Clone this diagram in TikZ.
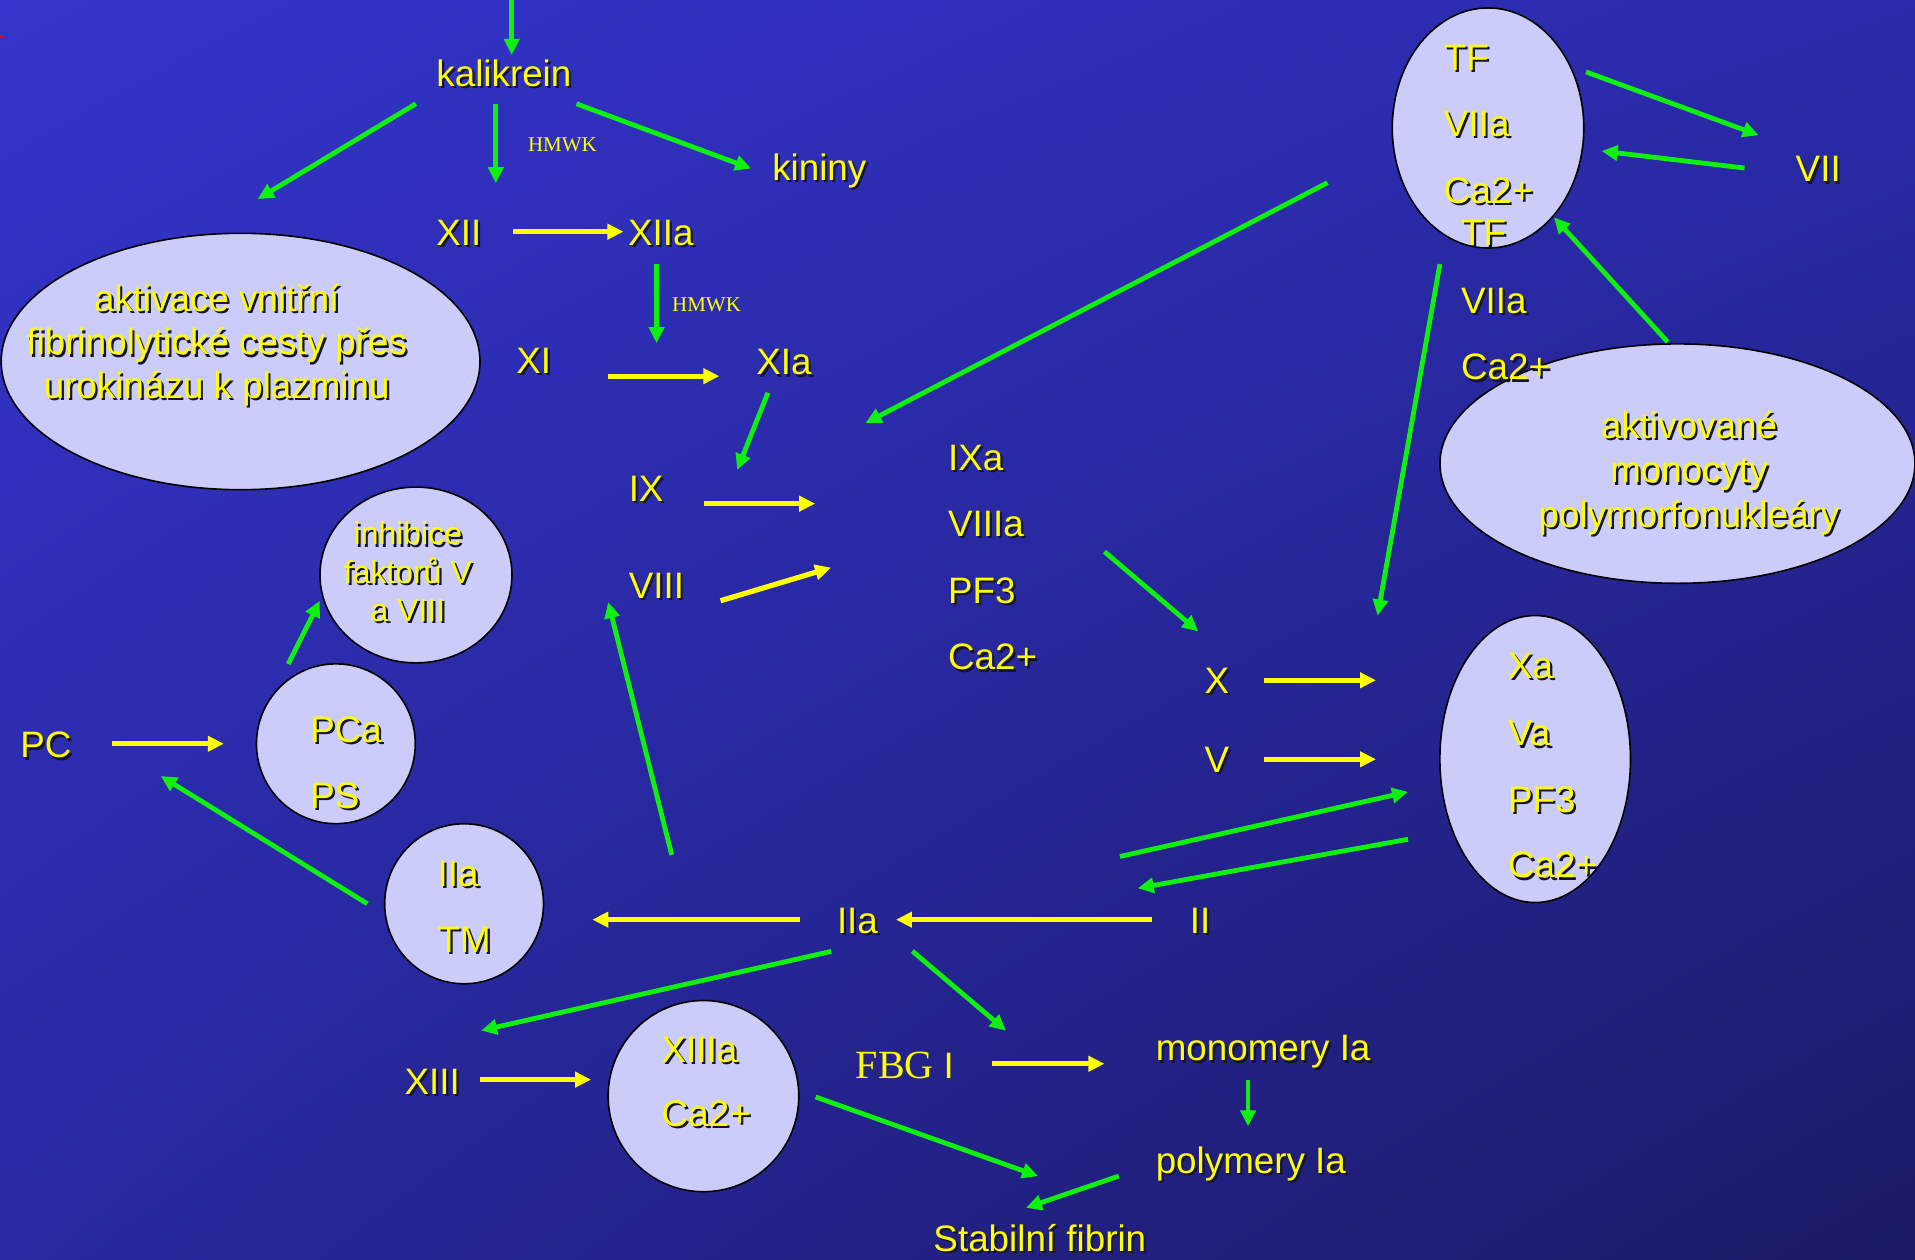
\documentclass[tikz,border=0pt]{standalone}
\usepackage{fontspec}
\setmainfont{Liberation Sans}
\newfontfamily\serifface{Liberation Serif}
\usetikzlibrary{arrows.meta,shapes.geometric,shadings}

\definecolor{bgTL}{RGB}{52,52,204}
\definecolor{bgTR}{RGB}{42,42,170}
\definecolor{bgBL}{RGB}{40,40,160}
\definecolor{bgBR}{RGB}{27,25,100}
\definecolor{grn}{RGB}{16,240,16}
\definecolor{yel}{RGB}{255,255,0}
\definecolor{bub}{RGB}{204,204,250}
\definecolor{txtshadow}{RGB}{20,20,40}

% yellow text with a dark drop shadow
\newcommand\shd[1]{\leavevmode\rlap{\kern1.1pt\raisebox{-1.1pt}{\textcolor{txtshadow}{#1}}}#1}

\begin{document}
\begin{tikzpicture}[x=0.61065pt,y=-0.61065pt,
  lab/.style={text=yel, inner sep=0pt, anchor=base west, font=\fontsize{18.4}{22}\selectfont},
  blk/.style={text=yel, inner sep=0pt, anchor=base, align=center},
  hmwk/.style={text=yel, inner sep=0pt, anchor=base west, font=\serifface\fontsize{10.5}{12}\selectfont},
  bubble/.style={ellipse, draw=black, line width=0.8pt, fill=bub, inner sep=0pt},
  garr/.style={draw=grn, line width=2.4pt, -{Triangle[length=8pt,width=7.5pt]}},
  yarr/.style={draw=yel, line width=2.6pt, -{Triangle[length=8pt,width=7.5pt]}},
]
\useasboundingbox (0,0) rectangle (1568,1031);
\shade[upper left=bgTL, upper right=bgTR, lower left=bgBL, lower right=bgBR] (0,0) rectangle (1568,1031);
\draw[red, line width=0.6pt] (0,29.5) -- (2.5,29.5);

% complexes
\node[bubble, minimum width=95.75pt, minimum height=120.05pt] (tfE) at (1218.4,104.8) {};
\node[bubble, minimum width=239.4pt, minimum height=128.2pt] (leftE) at (197,296) {};
\node[bubble, minimum width=237.5pt, minimum height=119.7pt] (aktE) at (1373.5,379.6) {};
\node[bubble, minimum width=96pt, minimum height=87.9pt] (inhE) at (340.6,470.8) {};
\node[bubble, minimum width=79.4pt, minimum height=79.9pt] (pcaE) at (275,609) {};
\node[bubble, minimum width=79.4pt, minimum height=80pt] (tmE) at (380,740) {};
\node[bubble, minimum width=95.3pt, minimum height=143.5pt] (xaE) at (1257,621.5) {};
\node[bubble, minimum width=95.3pt, minimum height=95.6pt] (xiiiaE) at (576,897.5) {};

% labels
\node[lab] (kal) at (357,70.5) {\shd{kalikrein}};
\node[lab] (kin) at (632,148) {\shd{kininy}};
\node[hmwk] (hm1) at (432,124) {HMWK};
\node[lab] (xii) at (357,201) {\shd{XII}};
\node[lab] (xiia) at (514,201) {\shd{XIIa}};
\node[hmwk] (hm2) at (550,255) {HMWK};
\node[lab] (xi) at (422.5,306) {\shd{XI}};
\node[lab] (xia) at (619,307) {\shd{XIa}};
\node[lab] (ix) at (514.5,410.5) {\shd{IX}};
\node[lab] (viii) at (514.5,490) {\shd{VIII}};
\node[lab] (ixa) at (776,385) {\shd{IXa}};
\node[lab] (viiia) at (776,439.5) {\shd{VIIIa}};
\node[lab] (pfa) at (776,494) {\shd{PF3}};
\node[lab] (caa) at (776,548.5) {\shd{Ca2+}};
\node[lab] (tf1) at (1182,57.5) {\shd{TF}};
\node[lab] (sa1) at (1182,112) {\shd{VIIa}};
\node[lab] (ca1) at (1182,166.7) {\shd{Ca2+}};
\node[lab] (tf2) at (1196,200.7) {\shd{TF}};
\node[lab] (sa2) at (1196,256.5) {\shd{VIIa}};
\node[lab] (ca2) at (1196,311) {\shd{Ca2+}};
\node[lab] (vii) at (1470,149) {\shd{VII}};
\node[lab] (x) at (986,568) {\shd{X}};
\node[lab] (v) at (986,632.4) {\shd{V}};
\node[lab] (xa) at (1234.5,555.8) {\shd{Xa}};
\node[lab] (va) at (1234.5,610.7) {\shd{Va}};
\node[lab] (pfb) at (1234.5,665) {\shd{PF3}};
\node[lab] (cab) at (1234.5,718.8) {\shd{Ca2+}};
\node[lab] (pc) at (16.4,620.5) {\shd{PC}};
\node[lab] (pca) at (253.8,608) {\shd{PCa}};
\node[lab] (ps) at (253.8,662) {\shd{PS}};
\node[lab] (iiat) at (358,726) {\shd{IIa}};
\node[lab] (tm) at (358,780) {\shd{TM}};
\node[lab] (iia) at (685,764.4) {\shd{IIa}};
\node[lab] (ii) at (974,764) {\shd{II}};
\node[lab] (xiii) at (331,895.8) {\shd{XIII}};
\node[lab] (xiiia) at (541.5,870) {\shd{XIIIa}};
\node[lab] (cac) at (541.5,922) {\shd{Ca2+}};
\node[lab] (fbg) at (700.5,882.7) {{\serifface\fontsize{20}{24}\selectfont FBG }I};
\node[lab] (mono) at (946,868.6) {\shd{monomery Ia}};
\node[lab] (poly) at (946,961) {\shd{polymery Ia}};
\node[lab] (stab) at (764,1024.8) {\shd{Stabilní fibrin}};

% multi-line texts, placed by the baseline of their last line
\node[blk, font=\fontsize{18.4}{21.7}\selectfont] (leftT) at (177.5,326.2)
  {\shd{aktivace vnitřní}\\\shd{fibrinolytické cesty přes}\\\shd{urokinázu k plazminu}};
\node[blk, font=\fontsize{16}{19.2}\selectfont] (inhT) at (334,509)
  {\shd{inhibice}\\\shd{faktorů V}\\\shd{a VIII}};
\node[blk, font=\fontsize{18.4}{22.4}\selectfont] (aktT) at (1383,432)
  {\shd{aktivované}\\\shd{monocyty}\\\shd{polymorfonukleáry}};

% connector end points
\coordinate (top) at (419,0);
\coordinate (kalA) at (419,45);
\coordinate (kalL) at (340.5,85);   \coordinate (leftEt) at (211,163);
\coordinate (kalD) at (406,85);     \coordinate (xiiT) at (406,150);
\coordinate (kalR) at (472,85);     \coordinate (kinL) at (615,138);
\coordinate (xiiR) at (420,189.7);  \coordinate (xiiaL) at (510.5,189.7);
\coordinate (xiiaB) at (537.6,216.5); \coordinate (xiaT) at (537.6,281);
\coordinate (xiR) at (498,308);     \coordinate (xiaL) at (589,308);
\coordinate (xiaB) at (628.8,321.6); \coordinate (ixT) at (603.6,384.8);
\coordinate (ixR) at (576.7,412.4); \coordinate (ixaL) at (667.5,412.4);
\coordinate (viiiR) at (590,491.9); \coordinate (viiiaL) at (680.5,464.8);
\coordinate (tfW) at (1087,149.6);  \coordinate (ixaT) at (708.6,346.4);
\coordinate (tfB) at (1179,216.2);  \coordinate (xaT) at (1128,504);
\coordinate (tfR) at (1298.6,58.9); \coordinate (viiL) at (1440,110.7);
\coordinate (viiB) at (1428.4,137.6); \coordinate (tfRr) at (1311.4,123.7);
\coordinate (aktT1) at (1365.5,280); \coordinate (tfBr) at (1272.4,178);
\coordinate (cmpR) at (904.3,451.7); \coordinate (xT) at (981.2,517);
\coordinate (xR) at (1034.7,557);   \coordinate (xaL1) at (1126.7,557);
\coordinate (vR) at (1034.7,621.7); \coordinate (xaL2) at (1126.7,621.7);
\coordinate (iiU) at (917,701.3);   \coordinate (xaL3) at (1152.9,648.4);
\coordinate (xaL4) at (1152.9,687.2); \coordinate (iiT) at (931.6,727.3);
\coordinate (iiL) at (943.3,753);   \coordinate (iiaR) at (733.6,753);
\coordinate (iiaL) at (654.8,753);  \coordinate (tmR) at (485,753);
\coordinate (iiaU) at (550,700);    \coordinate (viiiB) at (498,493);
\coordinate (tmL) at (300.8,740);   \coordinate (pcB) at (131.6,635.4);
\coordinate (pcR) at (91.7,609);    \coordinate (pcaL) at (183.3,609);
\coordinate (pcaT) at (236,543.7);  \coordinate (inhB) at (261.8,492);
\coordinate (iiaBL) at (680.6,779); \coordinate (xiiiT) at (393.9,843.8);
\coordinate (xiiiR) at (393.4,884); \coordinate (xiiiaL) at (484,884);
\coordinate (iiaBR) at (747,778.7); \coordinate (fbgT) at (823.7,843.9);
\coordinate (fbgR) at (812.3,871);  \coordinate (monoL) at (904.3,871);
\coordinate (monoB) at (1021.9,884); \coordinate (polyT) at (1021.9,922.3);
\coordinate (xiiiaR) at (667.8,898.2); \coordinate (stabR) at (850,963);
\coordinate (polyL) at (916,963);   \coordinate (stabT) at (840,989);

% green connectors
\draw[garr] (top) -- (kalA);
\draw[garr] (kalL) -- (leftEt);
\draw[garr] (kalD) -- (xiiT);
\draw[garr] (kalR) -- (kinL);
\draw[garr] (xiiaB) -- (xiaT);
\draw[garr] (xiaB) -- (ixT);
\draw[garr] (tfW) -- (ixaT);
\draw[garr] (tfB) -- (xaT);
\draw[garr] (tfR) -- (viiL);
\draw[garr] (viiB) -- (tfRr);
\draw[garr] (aktT1) -- (tfBr);
\draw[garr] (cmpR) -- (xT);
\draw[garr] (iiU) -- (xaL3);
\draw[garr] (xaL4) -- (iiT);
\draw[garr] (iiaU) -- (viiiB);
\draw[garr] (tmL) -- (pcB);
\draw[garr] (pcaT) -- (inhB);
\draw[garr] (iiaBL) -- (xiiiT);
\draw[garr] (iiaBR) -- (fbgT);
\draw[garr] (monoB) -- (polyT);
\draw[garr] (xiiiaR) -- (stabR);
\draw[garr] (polyL) -- (stabT);

% yellow connectors
\draw[yarr] (xiiR) -- (xiiaL);
\draw[yarr] (xiR) -- (xiaL);
\draw[yarr] (ixR) -- (ixaL);
\draw[yarr] (viiiR) -- (viiiaL);
\draw[yarr] (xR) -- (xaL1);
\draw[yarr] (vR) -- (xaL2);
\draw[yarr] (iiL) -- (iiaR);
\draw[yarr] (iiaL) -- (tmR);
\draw[yarr] (pcR) -- (pcaL);
\draw[yarr] (xiiiR) -- (xiiiaL);
\draw[yarr] (fbgR) -- (monoL);
\end{tikzpicture}
\end{document}
